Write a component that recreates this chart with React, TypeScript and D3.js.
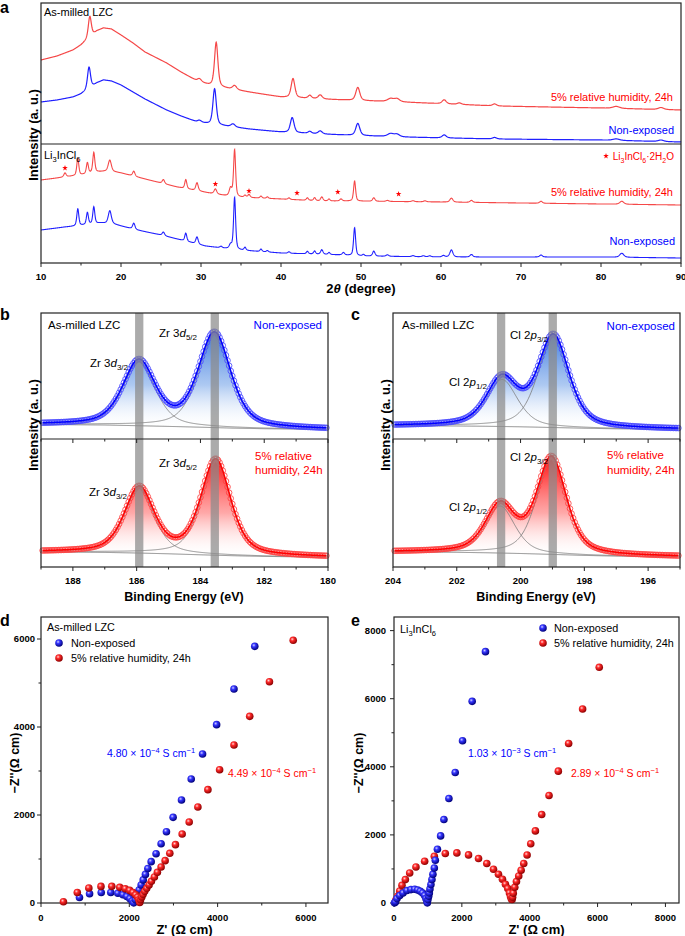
import React from "react";
import * as d3 from "d3";

type P = [number, number];
type Pk = [number, number, number]; // center, height, FWHM

const FONT = "'Liberation Sans', Arial, Helvetica, sans-serif";
const RED = "#ff0000";
const BLUE = "#0000ff";
const LRED = "#f54848";
const LBLUE = "#2020ff";

// ---------------- Panel a : XRD ----------------
const xrdMajorTicks = [10, 20, 30, 40, 50, 60, 70, 80, 90];
const xrdMinorTicks = [15, 25, 35, 45, 55, 65, 75, 85];

const lzcRedBase: P[] = [[10,84],[12,88],[14,94],[15,99],[16,106],[17,113],[17.8,116],[18.8,115],[20,109],[21.5,101],[23,92],[25.7,81],[27.5,72],[29.5,63],[31,59],[33,56],[36,52],[40,47],[45,45],[48,44],[55,42],[67,38],[80,36],[90,34]];
const lzcRedPeaks: Pk[] = [[16.1,21,0.45],[29.8,3,0.6],[31.9,44,0.5],[34.2,4,0.6],[41.5,19,0.55],[43.6,3,0.5],[44.9,4,0.6],[49.6,13,0.6],[53.7,3,0.9],[54.5,3,0.8],[60.4,4,0.6],[62.3,1.5,0.6],[66.7,2,0.6],[81.9,2,1.0],[87.5,2,0.8]];
const lzcBlueBase: P[] = [[10,42],[12,44],[14,47],[15,50],[16,55],[17,61],[17.8,64],[18.8,63],[20,59],[21.5,52],[23,45],[25.7,34],[27.5,28],[29.5,22],[31,20],[33,18],[36,15],[40,12],[45,10],[48,9],[55,7],[67,5],[80,4],[90,2]];
const lzcBluePeaks: Pk[] = [[16.0,22,0.45],[29.8,2,0.6],[31.7,36,0.5],[34.0,3,0.6],[41.4,15,0.55],[43.6,2,0.5],[44.9,3,0.6],[49.6,12,0.6],[53.7,3,0.9],[54.5,2.5,0.8],[60.4,3,0.6],[66.7,1.5,0.6],[81.9,1.5,1.0],[87.5,1.5,0.8]];

const licRedBase: P[] = [[10,83],[13,86],[15,88],[17,91],[18.5,92],[20,90],[21,88],[22,86],[23,84],[25,80],[27,76],[29,73],[31,70],[34,66],[37,65],[40,64],[45,62],[48,62],[60,61],[70,60],[80,59],[90,58]];
const licRedPeaks: Pk[] = [[13.0,4,0.35],[14.6,17,0.3],[15.8,11,0.3],[16.6,20,0.3],[18.6,11,0.45],[21.6,5,0.35],[25.3,4,0.35],[28.1,9,0.3],[29.5,8,0.35],[31.8,5,0.4],[33.7,8,0.4],[34.2,47,0.3],[35.5,2,0.3],[36.0,3,0.35],[37.5,2,0.3],[38.3,1.5,0.3],[41.0,1.5,0.3],[43.3,2.5,0.3],[44.2,3,0.3],[45.1,4,0.35],[46.0,2,0.3],[47.5,2,0.35],[49.2,20,0.3],[51.6,3.5,0.35],[53.3,1,0.4],[56.5,1,0.4],[58.0,1,0.4],[61.3,4,0.45],[63.8,2,0.4],[72.5,2,0.4],[82.6,3,0.6]];
const licBlueBase: P[] = [[10,33],[13,36],[14.5,37],[17.5,40],[19,39],[20,37],[22,33],[25,28],[27.5,23],[30.5,17],[34.6,13],[40,10],[47.7,8],[50,7],[60,6],[70,6],[80,6],[90,5]];
const licBluePeaks: Pk[] = [[14.6,17,0.3],[15.8,12,0.3],[16.6,17,0.3],[18.6,13,0.45],[21.6,6,0.35],[25.3,3.5,0.35],[28.1,8,0.3],[29.5,7,0.35],[32.5,1.5,0.35],[33.7,4,0.4],[34.2,52,0.3],[35.5,3,0.3],[37.5,2.5,0.3],[38.3,1.5,0.3],[41.0,1.5,0.3],[43.3,2.5,0.3],[44.2,3,0.3],[45.1,4.5,0.35],[46.0,2,0.3],[47.8,2.5,0.35],[49.2,28,0.3],[50.3,1.5,0.3],[51.6,5,0.35],[53.3,1.5,0.4],[56.5,1,0.4],[57.8,1,0.4],[58.6,1,0.4],[60.3,1.5,0.4],[61.3,7,0.45],[63.8,2.5,0.4],[72.5,2,0.4],[82.6,4,0.6]];
const hydrateMarks: P[] = [[13.0,95],[31.8,79],[36.0,72],[42.0,70],[47.1,71],[54.7,69]];

// ---------------- Panels b, c : XPS ----------------
const zrTicksMajor = [188, 186, 184, 182, 180];
const zrTicksMinor = [189, 187, 185, 183, 181];
const clTicksMajor = [204, 202, 200, 198, 196];
const clTicksMinor = [203, 201, 199, 197, 195];

const zrUpBg: P[] = [[180,9.5],[182,10.3],[183,10.9],[184,11.8],[185,12.6],[186,13.3],[187,14],[189,14.5]];
const zrUpPeaks: Pk[] = [[185.93,64,1.2],[183.56,94,1.2]];
const zrLoBg: P[] = [[180,9.8],[182,10.6],[183,11.3],[184,12.2],[185,13.2],[186,14],[187,14.6],[189,15]];
const zrLoPeaks: Pk[] = [[185.92,65,1.1],[183.52,95,1.1]];
const zrBands = [185.92, 183.55];

const clUpBg: P[] = [[195,9.7],[197,10.2],[198,10.8],[199,11.5],[200,12.2],[201,12.7],[202,13],[204,13.2]];
const clUpPeaks: Pk[] = [[200.58,47,1.15],[198.97,91,1.15]];
const clLoBg: P[] = [[195,10.3],[197,10.9],[198,11.6],[199,12.6],[200,13.5],[201,14.2],[202,14.7],[204,15]];
const clLoPeaks: Pk[] = [[200.64,47,1.1],[199.03,96,1.1]];
const clBands = [200.61, 198.99];

// ---------------- Panels d, e : EIS ----------------
const lzcTicksMajor = [0, 2000, 4000, 6000];
const lzcTicksMinor = [1000, 3000, 5000];
const licTicksMajor = [0, 2000, 4000, 6000, 8000];
const licTicksMinor = [1000, 3000, 5000, 7000];

const lzcNonExposed: P[] = [[871,125],[1100,210],[1364,238],[1580,238],[1740,220],[1856,186],[1945,147],[2015,98],[2068,45],[2100,3],[2140,75],[2180,180],[2222,295],[2268,410],[2315,525],[2365,650],[2420,785],[2495,940],[2606,1121],[2720,1348],[2841,1621],[2992,1947],[3182,2341],[3402,2818],[3659,3386],[3977,4053],[4371,4864],[4841,5833]];
const lzcHumid: P[] = [[508,28],[822,240],[1083,341],[1358,377],[1603,378],[1783,356],[1909,324],[2008,286],[2083,238],[2144,184],[2189,130],[2215,72],[2236,14],[2255,76],[2282,136],[2311,197],[2348,265],[2394,333],[2447,409],[2500,492],[2568,591],[2636,697],[2720,818],[2811,962],[2917,1129],[3045,1326],[3197,1568],[3356,1841],[3553,2182],[3780,2576],[4045,3030],[4371,3591],[4727,4242],[5174,5030],[5712,5970]];

const licNonExposed: P[] = [[15,5],[41,29],[88,129],[168,218],[265,294],[382,365],[500,394],[609,403],[697,382],[776,344],[844,294],[903,218],[941,129],[971,50],[982,5],[1000,100],[1021,197],[1041,294],[1059,412],[1088,541],[1118,688],[1147,844],[1188,1029],[1218,1256],[1280,1579],[1374,1971],[1471,2451],[1618,3069],[1804,3833],[2020,4765],[2304,5922],[2696,7382]];
const licHumid: P[] = [[50,80],[109,197],[168,353],[235,520],[335,688],[462,882],[647,1059],[903,1226],[1188,1373],[1512,1453],[1853,1471],[2197,1412],[2491,1306],[2735,1159],[2932,991],[3079,844],[3197,697],[3285,550],[3353,424],[3403,294],[3435,190],[3458,115],[3480,105],[3495,170],[3515,290],[3559,460],[3609,630],[3676,794],[3747,962],[3824,1160],[3923,1410],[4030,1740],[4167,2118],[4353,2598],[4569,3157],[4843,3873],[5147,4686],[5559,5696],[6049,6922]];

// ---------------- helpers ----------------
function pv(x: number, c: number, h: number, w: number, eta = 0.5) {
  const d = (x - c) / (w / 2);
  return h * (eta / (1 + d * d) + (1 - eta) * Math.exp(-Math.LN2 * d * d));
}
function interp(base: P[]) {
  const s = [...base].sort((a, b) => a[0] - b[0]);
  return d3.scaleLinear().domain(s.map((d) => d[0])).range(s.map((d) => d[1])).clamp(true);
}
function grid(x0: number, x1: number, step: number) {
  const n = Math.round((x1 - x0) / step);
  return d3.range(n + 1).map((i) => x0 + i * step);
}
function pattern(base: P[], peaks: Pk[]): P[] {
  const b = interp(base);
  return grid(10, 90, 0.03).map((x) => [x, b(x) + d3.sum(peaks, (p) => pv(x, p[0], p[1], p[2]))]);
}

const xA = d3.scaleLinear().domain([10, 90]).range([41, 681]);
const yA1 = d3.scaleLinear().domain([0, 141]).range([144, 3]);
const yA2 = d3.scaleLinear().domain([0, 119]).range([263, 144]);

const xB = d3.scaleLinear().domain([189, 180]).range([41, 328]);
const xC = d3.scaleLinear().domain([204, 195]).range([393, 680]);
const yUp = d3.scaleLinear().domain([0, 126]).range([439, 313]);
const yLo = d3.scaleLinear().domain([0, 128]).range([567, 439]);

const xD = d3.scaleLinear().domain([0, 6500]).range([41, 328]);
const yD = d3.scaleLinear().domain([0, 6500]).range([903, 617]);
const xE = d3.scaleLinear().domain([0, 8400]).range([394, 679]);
const yE = d3.scaleLinear().domain([0, 8400]).range([903, 617]);

type Sc = d3.ScaleLinear<number, number>;

const Sub = ({ t, d = 3, fs = 7.5 }: { t: string; d?: number; fs?: number }) => (
  <tspan dy={d} fontSize={fs}>{t}</tspan>
);

function XrdPanel() {
  const l1 = d3.line<P>().x((d) => xA(d[0])).y((d) => yA1(d[1]));
  const l2 = d3.line<P>().x((d) => xA(d[0])).y((d) => yA2(d[1]));
  const star = d3.symbol().type(d3.symbolStar).size(10)();
  return (
    <g fontFamily={FONT}>
      <path d={l1(pattern(lzcRedBase, lzcRedPeaks)) || ""} fill="none" stroke={LRED} strokeWidth={1.2} />
      <path d={l1(pattern(lzcBlueBase, lzcBluePeaks)) || ""} fill="none" stroke={LBLUE} strokeWidth={1.2} />
      <path d={l2(pattern(licRedBase, licRedPeaks)) || ""} fill="none" stroke={LRED} strokeWidth={1.1} />
      <path d={l2(pattern(licBlueBase, licBluePeaks)) || ""} fill="none" stroke={LBLUE} strokeWidth={1.1} />
      {hydrateMarks.map((m, i) => (
        <path key={i} d={star || ""} transform={`translate(${xA(m[0])},${yA2(m[1])})`} fill={RED} />
      ))}
      <rect x={41} y={3} width={640} height={260} fill="none" stroke="#222" strokeWidth={1.2} />
      <line x1={41} x2={681} y1={144} y2={144} stroke="#222" strokeWidth={1.2} />
      {xrdMajorTicks.map((t) => (
        <g key={t}>
          <line x1={xA(t)} x2={xA(t)} y1={263} y2={267} stroke="#222" />
          <text x={xA(t)} y={280} fontSize={9.5} fontWeight="bold" textAnchor="middle">{t}</text>
        </g>
      ))}
      {xrdMinorTicks.map((t) => (
        <line key={t} x1={xA(t)} x2={xA(t)} y1={263} y2={265.5} stroke="#222" />
      ))}
      <text x={361} y={293} fontSize={13} fontWeight="bold" textAnchor="middle">
        2<tspan fontStyle="italic">θ</tspan> (degree)
      </text>
      <text transform="translate(38,135) rotate(-90)" fontSize={13} fontWeight="bold" textAnchor="middle">Intensity (a. u.)</text>
      <text x={44} y={16} fontSize={11}>As-milled LZC</text>
      <text x={673} y={101} fontSize={11} fill={RED} textAnchor="end">5% relative humidity, 24h</text>
      <text x={674} y={134} fontSize={11} fill={BLUE} textAnchor="end">Non-exposed</text>
      <text x={44} y={159} fontSize={11}>Li<Sub t="3" /><tspan dy={-3}>InCl</tspan><Sub t="6" /></text>
      <path d={star || ""} transform="translate(606,156)" fill={RED} />
      <text x={674} y={160} fontSize={10} fill={RED} textAnchor="end">
        Li<Sub t="3" fs={7} /><tspan dy={-3}>InCl</tspan><Sub t="6" fs={7} /><tspan dy={-3}>·2H</tspan><Sub t="2" fs={7} /><tspan dy={-3}>O</tspan>
      </text>
      <text x={673} y={196} fontSize={11} fill={RED} textAnchor="end">5% relative humidity, 24h</text>
      <text x={675} y={245} fontSize={11} fill={BLUE} textAnchor="end">Non-exposed</text>
      <text x={0} y={13} fontSize={16} fontWeight="bold">a</text>
    </g>
  );
}

function XpsSub({ x, y, bg, peaks, e0, e1, color, circ, grad }: { x: Sc; y: Sc; bg: P[]; peaks: Pk[]; e0: number; e1: number; color: string; circ: string; grad: string }) {
  const b = interp(bg);
  const es = grid(e1, e0, 0.05);
  const env: P[] = es.map((e) => [e, b(e) + d3.sum(peaks, (p) => pv(e, p[0], p[1], p[2]))]);
  const line = d3.line<P>().x((d) => x(d[0])).y((d) => y(d[1]));
  const area = d3.area<P>().x((d) => x(d[0])).y0((d) => y(b(d[0]))).y1((d) => y(d[1]));
  const fine = grid(e1, e0, 0.02);
  return (
    <g>
      <path d={area(env) || ""} fill={`url(#${grad})`} />
      {peaks.map((p, i) => (
        <path key={i} d={line(fine.map((e) => [e, b(e) + pv(e, p[0], p[1], p[2])])) || ""} fill="none" stroke="#7a7a7a" strokeWidth={0.8} />
      ))}
      <path d={line(fine.map((e) => [e, b(e)])) || ""} fill="none" stroke="#7a7a7a" strokeWidth={0.9} />
      {env.map((d, i) => (
        <circle key={i} cx={x(d[0])} cy={y(d[1])} r={2.8} fill="none" stroke={circ} strokeWidth={0.85} />
      ))}
      <path d={line(env) || ""} fill="none" stroke={color} strokeWidth={1.5} />
    </g>
  );
}

function XpsFrame({ x, x0, major, minor, bands }: { x: Sc; x0: number; major: number[]; minor: number[]; bands: number[] }) {
  return (
    <g>
      {bands.map((c) => (
        <rect key={c} x={x(c + 0.13)} y={313} width={Math.abs(x(c - 0.13) - x(c + 0.13))} height={254} fill="#8a8a8a" opacity={0.72} />
      ))}
      <rect x={x0} y={313} width={287} height={254} fill="none" stroke="#222" strokeWidth={1.2} />
      <line x1={x0} x2={x0 + 287} y1={439} y2={439} stroke="#222" strokeWidth={1.2} />
      {major.map((t) => (
        <g key={t}>
          <line x1={x(t)} x2={x(t)} y1={567} y2={571} stroke="#222" />
          <line x1={x(t)} x2={x(t)} y1={439} y2={443} stroke="#222" />
          <text x={x(t)} y={584} fontSize={9.5} fontWeight="bold" textAnchor="middle">{t}</text>
        </g>
      ))}
      {minor.map((t) => (
        <g key={t}>
          <line x1={x(t)} x2={x(t)} y1={567} y2={569.5} stroke="#222" />
          <line x1={x(t)} x2={x(t)} y1={439} y2={441.5} stroke="#222" />
        </g>
      ))}
      <text x={x0 + 143} y={601} fontSize={12.5} fontWeight="bold" textAnchor="middle">Binding Energy (eV)</text>
      <text transform={`translate(${x0 - 3},425) rotate(-90)`} fontSize={13} fontWeight="bold" textAnchor="middle">Intensity (a. u.)</text>
    </g>
  );
}

const Orb = ({ t, sub }: { t: string; sub: string }) => (
  <>
    {t}<tspan fontStyle="italic">{sub[0]}</tspan><tspan dy={3} fontSize={8}>{sub.slice(1)}</tspan>
  </>
);

function XpsPanels() {
  return (
    <g fontFamily={FONT}>
      <XpsSub x={xB} y={yUp} bg={zrUpBg} peaks={zrUpPeaks} e0={188.95} e1={180.05} color={BLUE} circ="#4848ff" grad="gBlueUp" />
      <XpsSub x={xB} y={yLo} bg={zrLoBg} peaks={zrLoPeaks} e0={188.95} e1={180.05} color={RED} circ="#ff4040" grad="gRedLo" />
      <XpsSub x={xC} y={yUp} bg={clUpBg} peaks={clUpPeaks} e0={203.95} e1={195.05} color={BLUE} circ="#4848ff" grad="gBlueUp" />
      <XpsSub x={xC} y={yLo} bg={clLoBg} peaks={clLoPeaks} e0={203.95} e1={195.05} color={RED} circ="#ff4040" grad="gRedLo" />
      <XpsFrame x={xB} x0={41} major={zrTicksMajor} minor={zrTicksMinor} bands={zrBands} />
      <XpsFrame x={xC} x0={393} major={clTicksMajor} minor={clTicksMinor} bands={clBands} />
      <g fontSize={11.5}>
        <text x={48} y={329}>As-milled LZC</text>
        <text x={322} y={329} fill={BLUE} textAnchor="end">Non-exposed</text>
        <text x={197} y={337} textAnchor="end"><Orb t="Zr 3" sub="d5/2" /></text>
        <text x={128} y={367} textAnchor="end"><Orb t="Zr 3" sub="d3/2" /></text>
        <text x={197} y={467} textAnchor="end"><Orb t="Zr 3" sub="d5/2" /></text>
        <text x={127} y={496} textAnchor="end"><Orb t="Zr 3" sub="d3/2" /></text>
        <text x={255} y={460} fill={RED}>5% relative</text>
        <text x={255} y={474} fill={RED}>humidity, 24h</text>

        <text x={402} y={329}>As-milled LZC</text>
        <text x={675} y={330} fill={BLUE} textAnchor="end">Non-exposed</text>
        <text x={548} y={339} textAnchor="end"><Orb t="Cl 2" sub="p3/2" /></text>
        <text x={487} y={386} textAnchor="end"><Orb t="Cl 2" sub="p1/2" /></text>
        <text x={548} y={461} textAnchor="end"><Orb t="Cl 2" sub="p3/2" /></text>
        <text x={487} y={511} textAnchor="end"><Orb t="Cl 2" sub="p1/2" /></text>
        <text x={607} y={459} fill={RED}>5% relative</text>
        <text x={607} y={474} fill={RED}>humidity, 24h</text>
      </g>
      <text x={0} y={320} fontSize={16} fontWeight="bold">b</text>
      <text x={351} y={320} fontSize={16} fontWeight="bold">c</text>
    </g>
  );
}

const Cond = ({ x, y, v, e, color }: { x: number; y: number; v: string; e: string; color: string }) => (
  <text x={x} y={y} fontSize={10.5} fill={color}>
    {v} × 10<tspan dy={-4} fontSize={7.5}>{e}</tspan><tspan dy={4}> S cm</tspan><tspan dy={-4} fontSize={7.5}>−1</tspan>
  </text>
);

function EisPanel({ x, y, x0, major, minor, first, second, firstFill, secondFill, title, tickGap, labelGap, letter, lx }: {
  x: Sc; y: Sc; x0: number; major: number[]; minor: number[]; first: P[]; second: P[]; firstFill: string; secondFill: string; title: React.ReactNode; tickGap: number; labelGap: number; letter: string; lx: number;
}) {
  return (
    <g fontFamily={FONT}>
      <rect x={x0} y={617} width={x.range()[1] - x0} height={286} fill="none" stroke="#222" strokeWidth={1.2} />
      {major.map((t) => (
        <g key={t}>
          <line x1={x(t)} x2={x(t)} y1={903} y2={907} stroke="#222" />
          <text x={x(t)} y={921} fontSize={9.5} fontWeight="bold" textAnchor="middle">{t}</text>
          <line x1={x0 - 4} x2={x0} y1={y(t)} y2={y(t)} stroke="#222" />
          <text x={x0 - tickGap} y={y(t) + 3.4} fontSize={9.5} fontWeight="bold" textAnchor="end">{t}</text>
        </g>
      ))}
      {minor.map((t) => (
        <g key={t}>
          <line x1={x(t)} x2={x(t)} y1={903} y2={905.5} stroke="#222" />
          <line x1={x0 - 2.5} x2={x0} y1={y(t)} y2={y(t)} stroke="#222" />
        </g>
      ))}
      {first.map((d, i) => (
        <circle key={"a" + i} cx={x(d[0])} cy={y(d[1])} r={3.8} fill={`url(#${firstFill})`} />
      ))}
      {second.map((d, i) => (
        <circle key={"b" + i} cx={x(d[0])} cy={y(d[1])} r={3.8} fill={`url(#${secondFill})`} />
      ))}
      <text x={(x0 + x.range()[1]) / 2} y={934} fontSize={13} fontWeight="bold" textAnchor="middle">Z' (Ω cm)</text>
      <text transform={`translate(${x0 - labelGap},763) rotate(-90)`} fontSize={12.5} fontWeight="bold" textAnchor="middle">−Z''(Ω cm)</text>
      {title}
      <text x={lx} y={626} fontSize={16} fontWeight="bold">{letter}</text>
    </g>
  );
}

export default function App() {
  return (
    <svg width={685} height={936} viewBox="0 0 685 936" style={{ position: "absolute", left: 0, top: 0, background: "#fff" }}>
      <defs>
        <linearGradient id="gBlueUp" gradientUnits="userSpaceOnUse" x1={0} y1={330} x2={0} y2={430}>
          <stop offset="0" stopColor="#2c6ddc" stopOpacity={0.95} />
          <stop offset="0.55" stopColor="#8ab2ec" stopOpacity={0.7} />
          <stop offset="1" stopColor="#ffffff" stopOpacity={0} />
        </linearGradient>
        <linearGradient id="gRedLo" gradientUnits="userSpaceOnUse" x1={0} y1={458} x2={0} y2={558}>
          <stop offset="0" stopColor="#ff1010" stopOpacity={1} />
          <stop offset="0.55" stopColor="#ff7a7a" stopOpacity={0.65} />
          <stop offset="1" stopColor="#ffffff" stopOpacity={0} />
        </linearGradient>
        <radialGradient id="ballBlue" cx="0.38" cy="0.35" r="0.65">
          <stop offset="0" stopColor="#d0d0ff" />
          <stop offset="0.35" stopColor="#3535ff" />
          <stop offset="1" stopColor="#00007a" />
        </radialGradient>
        <radialGradient id="ballRed" cx="0.38" cy="0.35" r="0.65">
          <stop offset="0" stopColor="#ffd6d6" />
          <stop offset="0.35" stopColor="#ff2a2a" />
          <stop offset="1" stopColor="#8c0000" />
        </radialGradient>
      </defs>
      <XrdPanel />
      <XpsPanels />
      <EisPanel
        x={xD} y={yD} x0={41} major={lzcTicksMajor} minor={lzcTicksMinor}
        first={lzcNonExposed} second={lzcHumid} firstFill="ballBlue" secondFill="ballRed" tickGap={6} labelGap={22} letter="d" lx={0}
        title={
          <g fontSize={10.8}>
            <text x={47} y={631}>As-milled LZC</text>
            <circle cx={59} cy={643} r={3.8} fill="url(#ballBlue)" />
            <text x={71} y={647}>Non-exposed</text>
            <circle cx={59} cy={658} r={3.8} fill="url(#ballRed)" />
            <text x={71} y={662}>5% relative humidity, 24h</text>
            <Cond x={107} y={757} v="4.80" e="−4" color={BLUE} />
            <Cond x={228} y={777} v="4.49" e="−4" color={RED} />
          </g>
        }
      />
      <EisPanel
        x={xE} y={yE} x0={394} major={licTicksMajor} minor={licTicksMinor}
        first={licHumid} second={licNonExposed} firstFill="ballRed" secondFill="ballBlue" tickGap={8} labelGap={31} letter="e" lx={351}
        title={
          <g fontSize={10.8}>
            <text x={400} y={633}>Li<Sub t="3" /><tspan dy={-3}>InCl</tspan><Sub t="6" /></text>
            <circle cx={543} cy={628} r={3.8} fill="url(#ballBlue)" />
            <text x={554} y={632}>Non-exposed</text>
            <circle cx={543} cy={643} r={3.8} fill="url(#ballRed)" />
            <text x={554} y={647}>5% relative humidity, 24h</text>
            <Cond x={468} y={757} v="1.03" e="−3" color={BLUE} />
            <Cond x={571} y={777} v="2.89" e="−4" color={RED} />
          </g>
        }
      />
    </svg>
  );
}
